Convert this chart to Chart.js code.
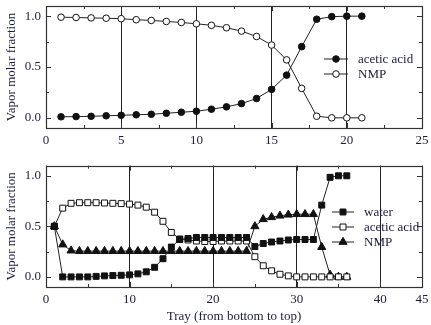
<!DOCTYPE html>
<html>
<head>
<meta charset="utf-8">
<script src="https://cdn.jsdelivr.net/npm/chart.js@4.4.1/dist/chart.umd.min.js"></script>
<style>
  body { margin: 0; background: #fff; font-family: 'Liberation Serif', serif; }
  canvas { display: block; }
</style>
</head>
<body>
<canvas id="graficoSuperior" width="431" height="160"></canvas>
<canvas id="graficoInferior" width="431" height="165"></canvas>

<script>
    // Platos y composiciones de vapor - columna superior
    const platosA = [1, 2, 3, 4, 5, 6, 7, 8, 9, 10, 11, 12, 13, 14, 15, 16, 17, 18, 19, 20, 21];
    const acidoAceticoA = [0.01, 0.012, 0.015, 0.02, 0.025, 0.03, 0.035, 0.045, 0.055, 0.065, 0.085,
                           0.108, 0.14, 0.19, 0.28, 0.42, 0.70, 0.97, 0.995, 1.0, 1.0];
    const nmpA = [0.99, 0.987, 0.983, 0.98, 0.975, 0.965, 0.958, 0.948, 0.938, 0.925, 0.91,
                  0.886, 0.853, 0.80, 0.716, 0.57, 0.29, 0.016, 0.0, 0.0, 0.0];

    // Platos y composiciones de vapor - columna inferior
    const platosB = [1, 2, 3, 4, 5, 6, 7, 8, 9, 10, 11, 12, 13, 14, 15, 16, 17, 18,
                     19, 20, 21, 22, 23, 24, 25, 26, 27, 28, 29, 30, 31, 32, 33, 34, 35, 36];
    const aguaB = [0.5, 0.0, 0.0, 0.0, 0.0, 0.005, 0.01, 0.013, 0.016, 0.02, 0.03, 0.05, 0.095, 0.18,
                   0.295, 0.37, 0.38, 0.39, 0.39, 0.39, 0.39, 0.39, 0.39, 0.39, 0.30, 0.33, 0.345,
                   0.355, 0.365, 0.37, 0.37, 0.37, 0.71, 0.985, 1.0, 1.0];
    const acidoAceticoB = [0.5, 0.68, 0.728, 0.734, 0.734, 0.734, 0.731, 0.728, 0.725, 0.72, 0.71, 0.69,
                           0.64, 0.55, 0.44, 0.375, 0.365, 0.355, 0.35, 0.35, 0.355, 0.355, 0.355, 0.355,
                           0.20, 0.11, 0.06, 0.026, 0.01, 0.0, 0.0, 0.0, 0.0, 0.0, 0.0, 0.0];
    const nmpB = [0.5, 0.32, 0.26, 0.255, 0.255, 0.255, 0.255, 0.255, 0.255, 0.255, 0.255, 0.255,
                  0.255, 0.255, 0.255, 0.255, 0.255, 0.255, 0.255, 0.255, 0.255, 0.255, 0.255, 0.255,
                  0.50, 0.57, 0.59, 0.605, 0.615, 0.62, 0.62, 0.62, 0.295, 0.02, 0.0, 0.0];

    const colorTexto = '#1c1c40';
    const fuente = "'Liberation Serif', 'Times New Roman', serif";

    // Marco completo y marcas hacia adentro en los cuatro lados
    const marcoTicks = {
        id: 'marcoTicks',
        beforeDatasetsDraw(chart, args, opts) {
            const { ctx, chartArea: a } = chart;
            const sx = chart.scales.x, sy = chart.scales.y;
            ctx.save();
            ctx.strokeStyle = '#333';
            ctx.lineWidth = 1;
            ctx.beginPath();
            // eje x: mayores cada paso, menores a la mitad
            const paso = opts.pasoX;
            for (let v = sx.min; v <= sx.max + 1e-9; v += paso / 2) {
                const mayor = Math.abs(Math.round(v / paso) * paso - v) < 1e-9;
                const l = mayor ? 5 : 3;
                const p = Math.round(sx.getPixelForValue(v)) + 0.5;
                ctx.moveTo(p, a.bottom); ctx.lineTo(p, a.bottom - l);
                ctx.moveTo(p, a.top); ctx.lineTo(p, a.top + l);
            }
            // eje y: 0, 0.25, 0.5 ... dentro del rango
            [0, 0.25, 0.5, 0.75, 1.0].forEach((v, i) => {
                const l = i % 2 === 0 ? 5 : 3;
                const p = Math.round(sy.getPixelForValue(v)) + 0.5;
                ctx.moveTo(a.left, p); ctx.lineTo(a.left + l, p);
                ctx.moveTo(a.right, p); ctx.lineTo(a.right - l, p);
            });
            ctx.stroke();
            ctx.lineWidth = 1.2;
            ctx.strokeRect(Math.round(a.left) + 0.5, Math.round(a.top) + 0.5,
                           Math.round(a.right - a.left), Math.round(a.bottom - a.top));
            ctx.restore();
        }
    };

    // Leyenda dentro del área: segmento de línea con el marcador al centro
    const leyendaInterna = {
        id: 'leyendaInterna',
        afterDraw(chart, args, opts) {
            const ctx = chart.ctx;
            ctx.save();
            chart.data.datasets.forEach((ds, i) => {
                const y = opts.y + i * opts.paso;
                const xc = opts.x + opts.largo / 2;
                ctx.strokeStyle = '#222';
                ctx.lineWidth = 1;
                ctx.beginPath();
                ctx.moveTo(opts.x, y);
                ctx.lineTo(opts.x + opts.largo, y);
                ctx.stroke();
                ctx.fillStyle = ds.pointBackgroundColor;
                ctx.strokeStyle = '#111';
                Chart.helpers.drawPoint(ctx, { pointStyle: ds.pointStyle, radius: ds.pointRadius,
                                               borderWidth: 1, rotation: 0 }, xc, y);
                ctx.fillStyle = colorTexto;
                ctx.font = '13px ' + fuente;
                ctx.textBaseline = 'middle';
                ctx.fillText(ds.label, opts.x + opts.largo + 10, y + 1);
            });
            ctx.restore();
        }
    };

    function serie(etiqueta, datos, estilo, relleno, radio) {
        return {
            label: etiqueta,
            data: datos,
            borderColor: '#222',
            borderWidth: 1,
            pointStyle: estilo,
            pointRadius: radio,
            pointBorderColor: '#111',
            pointBackgroundColor: relleno ? '#111' : '#fff',
            pointBorderWidth: 1,
            tension: 0
        };
    }

    function opciones(maxX, pasoX, arriba, altoEjeX, tituloX, leyenda) {
        return {
            responsive: false,
            animation: false,
            layout: { padding: { top: arriba, right: 9, left: 0, bottom: 0 } },
            plugins: {
                legend: { display: false },
                tooltip: { enabled: false },
                marcoTicks: { pasoX: pasoX },
                leyendaInterna: leyenda
            },
            scales: {
                x: {
                    type: 'linear',
                    min: 0,
                    max: maxX,
                    afterFit: (s) => { s.height = altoEjeX; s.paddingLeft = 0; s.paddingRight = 0; },
                    ticks: { stepSize: pasoX, color: colorTexto, padding: 5,
                             font: { family: fuente, size: 13 } },
                    grid: { color: '#222', lineWidth: 1, drawTicks: false },
                    border: { display: false },
                    title: tituloX ? { display: true, text: tituloX, color: colorTexto,
                                       padding: { top: 0, bottom: 1 },
                                       font: { family: fuente, size: 13 } } : { display: false }
                },
                y: {
                    min: -0.1,
                    max: 1.1,
                    afterFit: (s) => { s.width = 46; s.paddingTop = 0; s.paddingBottom = 0; },
                    ticks: { stepSize: 0.5, includeBounds: false, color: colorTexto, padding: 5,
                             callback: (v) => v.toFixed(1),
                             font: { family: fuente, size: 13 } },
                    grid: { display: false, drawTicks: false },
                    border: { display: false },
                    title: { display: true, text: 'Vapor molar fraction', color: colorTexto,
                             padding: { top: 4, bottom: 0 },
                             font: { family: fuente, size: 13 } }
                }
            }
        };
    }

    const puntos = (xs, ys) => xs.map((x, i) => ({ x: x, y: ys[i] }));

    function dibujar() {
        new Chart(document.getElementById('graficoSuperior'), {
            type: 'line',
            data: {
                datasets: [
                    serie('acetic acid', puntos(platosA, acidoAceticoA), 'circle', true, 3.3),
                    serie('NMP', puntos(platosA, nmpA), 'circle', false, 3.3)
                ]
            },
            options: opciones(25, 5, 6, 32, null, { x: 324, y: 59, paso: 15, largo: 24 }),
            plugins: [marcoTicks, leyendaInterna]
        });

        new Chart(document.getElementById('graficoInferior'), {
            type: 'line',
            data: {
                datasets: [
                    serie('water', puntos(platosB, aguaB), 'rect', true, 4.2),
                    serie('acetic acid', puntos(platosB, acidoAceticoB), 'rect', false, 4.2),
                    serie('NMP', puntos(platosB, nmpB), 'triangle', true, 4.7)
                ]
            },
            options: opciones(45, 10, 4, 38, 'Tray (from bottom to top)', { x: 332, y: 52, paso: 15, largo: 22 }),
            plugins: [marcoTicks, leyendaInterna]
        });
    }

    document.fonts.load("13px 'Liberation Serif'").then(dibujar, dibujar);
</script>
</body>
</html>
